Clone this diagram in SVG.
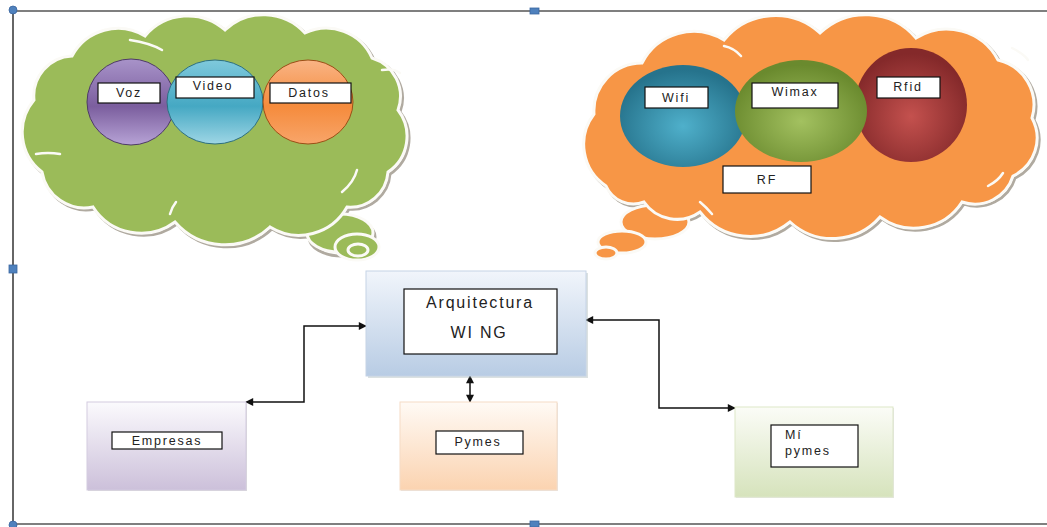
<svg xmlns="http://www.w3.org/2000/svg" width="1047" height="527" viewBox="0 0 1047 527">
<style>
.lbl{fill:#fff;stroke:#111;stroke-width:1.2}
.t{font-family:"Liberation Sans",Arial,sans-serif;font-size:12.5px;fill:#222;letter-spacing:1.8px}
.tb{font-family:"Liberation Sans",Arial,sans-serif;font-size:16px;fill:#222;letter-spacing:1.8px}
.conn{fill:none;stroke:#111;stroke-width:1.5}
.cshadow{fill:none;stroke:#b0aaa0;stroke-width:3}
.cedge{stroke:#fbfaf6;stroke-width:3}
.handle{fill:#4f81bd;stroke:#3a66a0;stroke-width:0.8}
.inner{fill:none;stroke:#fbfaf6;stroke-width:2.5;stroke-linecap:round}
</style>
<defs>
<marker id="ah" viewBox="0 0 10 10" refX="9" refY="5" markerWidth="10" markerHeight="8" markerUnits="userSpaceOnUse" orient="auto-start-reverse">
<path d="M0,0 L10,5 L0,10 Z" fill="#111"/>
</marker>
<linearGradient id="gVoz" x1="0" y1="0" x2="0" y2="1"><stop offset="0" stop-color="#a893c9"/><stop offset="0.55" stop-color="#7b5e9e"/><stop offset="1" stop-color="#b7a3d6"/></linearGradient>
<linearGradient id="gVid" x1="0" y1="0" x2="0" y2="1"><stop offset="0" stop-color="#7fc9dc"/><stop offset="0.55" stop-color="#45a8c3"/><stop offset="1" stop-color="#9ed6e5"/></linearGradient>
<linearGradient id="gDat" x1="0" y1="0" x2="0" y2="1"><stop offset="0" stop-color="#f9b485"/><stop offset="0.55" stop-color="#f58b3c"/><stop offset="1" stop-color="#f8a56a"/></linearGradient>
<radialGradient id="gWifi" cx="0.5" cy="0.6" r="0.55"><stop offset="0" stop-color="#4fb0cb"/><stop offset="1" stop-color="#26738c"/></radialGradient>
<radialGradient id="gWimax" cx="0.5" cy="0.6" r="0.55"><stop offset="0" stop-color="#a3c160"/><stop offset="1" stop-color="#6a8a2e"/></radialGradient>
<radialGradient id="gRfid" cx="0.5" cy="0.6" r="0.55"><stop offset="0" stop-color="#c4514e"/><stop offset="1" stop-color="#84292a"/></radialGradient>
<linearGradient id="gArq" x1="0" y1="0" x2="0" y2="1"><stop offset="0" stop-color="#f1f5fb"/><stop offset="1" stop-color="#b8cce4"/></linearGradient>
<linearGradient id="gEmp" x1="0" y1="0" x2="0" y2="1"><stop offset="0" stop-color="#fbfafd"/><stop offset="1" stop-color="#ccc0da"/></linearGradient>
<linearGradient id="gPym" x1="0" y1="0" x2="0" y2="1"><stop offset="0" stop-color="#fffaf5"/><stop offset="1" stop-color="#fbd3b0"/></linearGradient>
<linearGradient id="gMi" x1="0" y1="0" x2="0" y2="1"><stop offset="0" stop-color="#fbfcf7"/><stop offset="1" stop-color="#d6e3bc"/></linearGradient>
<path id="cloudG" d="M42,172 A50,50 0 0 1 34,100 A40,40 0 0 1 72,56 A52,52 0 0 1 145,36 A56,56 0 0 1 225,30 A56,56 0 0 1 305,33 A50,50 0 0 1 372,58 A40,40 0 0 1 398,110 A43,43 0 0 1 388,172 A38,38 0 0 1 347,207 A55,55 0 0 1 270,227 A66,66 0 0 1 175,222 A57,57 0 0 1 93,207 A43,43 0 0 1 42,172 Z"/>
<path id="cloudO" d="M606,186 A50,50 0 0 1 594,114 A48,48 0 0 1 642,63 A58,58 0 0 1 724,40 A66,66 0 0 1 820,33 A66,66 0 0 1 916,38 A58,58 0 0 1 998,60 A46,46 0 0 1 1032,118 A42,42 0 0 1 1013,176 A40,40 0 0 1 962,202 A57,57 0 0 1 880,217 A63,63 0 0 1 790,222 A63,63 0 0 1 700,212 A40,40 0 0 1 644,202 A30,30 0 0 1 606,186 Z"/>
</defs>
<rect width="1047" height="527" fill="#fff"/>

<!-- frame -->
<g id="frame">
<line x1="13" y1="11" x2="1047" y2="11" stroke="#555" stroke-width="1.3"/>
<line x1="13" y1="11" x2="13" y2="524" stroke="#333" stroke-width="1.5"/>
<line x1="13" y1="524" x2="1047" y2="524" stroke="#555" stroke-width="1.3"/>
<circle class="handle" cx="13" cy="10" r="4"/>
<rect class="handle" x="530" y="8" width="9" height="6"/>
<rect class="handle" x="9" y="265" width="8" height="8"/>
<rect class="handle" x="530" y="521" width="9" height="6"/>
<circle class="handle" cx="13" cy="525" r="4"/>
</g>

<!-- green cloud -->
<g id="cloud-green">
<ellipse cx="340" cy="235" rx="33" ry="19" fill="none" stroke="#b0aaa0" stroke-width="3" transform="translate(2,2)"/>
<use href="#cloudG" transform="translate(2,2)" class="cshadow"/>
<ellipse cx="340" cy="233" rx="33" ry="19" fill="#9bbb59" stroke="#fbfaf6" stroke-width="3"/>
<use href="#cloudG" fill="#9bbb59" class="cedge"/>
<ellipse cx="357" cy="247" rx="22" ry="13" fill="#9bbb59" stroke="#fbfaf6" stroke-width="3"/>
<ellipse cx="358" cy="250" rx="10" ry="6" fill="#9bbb59" stroke="#fbfaf6" stroke-width="3"/>
<path class="inner" d="M36,154 Q48,152 60,154"/>
<path class="inner" d="M130,40 Q150,43 162,50"/>
<path class="inner" d="M382,70 Q394,68 400,73"/>
<path class="inner" d="M342,192 Q354,182 357,170"/>
<path class="inner" d="M170,214 Q172,207 176,202"/>
<ellipse cx="131" cy="102" rx="44" ry="43" fill="url(#gVoz)" stroke="#4e3a66" stroke-width="1"/>
<ellipse cx="215" cy="102" rx="48" ry="42" fill="url(#gVid)" stroke="#2d6f80" stroke-width="1"/>
<ellipse cx="308" cy="102" rx="45" ry="42" fill="url(#gDat)" stroke="#9c4e16" stroke-width="1"/>
</g>
<g id="n-voz"><rect class="lbl" x="98" y="83" width="62" height="20"/><text class="t" x="129" y="97" text-anchor="middle">Voz</text></g>
<g id="n-video"><rect class="lbl" x="176" y="77" width="78" height="21"/><text class="t" x="213" y="90" text-anchor="middle">Video</text></g>
<g id="n-datos"><rect class="lbl" x="270" y="83" width="81" height="20"/><text class="t" x="309" y="97" text-anchor="middle">Datos</text></g>

<!-- orange cloud -->
<g id="cloud-orange">
<use href="#cloudO" transform="translate(2,2)" class="cshadow"/>
<ellipse cx="655" cy="222" rx="34" ry="17" fill="#f79646" stroke="#fbfaf6" stroke-width="3"/>
<use href="#cloudO" fill="#f79646" class="cedge"/>
<ellipse cx="622" cy="242" rx="24" ry="11" fill="#f79646" stroke="#fbfaf6" stroke-width="3"/>
<ellipse cx="606" cy="253" rx="11" ry="6" fill="#f79646" stroke="#fbfaf6" stroke-width="3"/>
<path class="inner" d="M724,46 Q734,48 741,56"/>
<path class="inner" d="M1012,48 Q1024,54 1028,60"/>
<path class="inner" d="M988,186 Q998,181 1003,173"/>
<path class="inner" d="M700,202 Q706,207 712,214"/>
<ellipse cx="683" cy="116" rx="63" ry="51" fill="url(#gWifi)"/>
<ellipse cx="911" cy="105" rx="56" ry="57" fill="url(#gRfid)"/>
<ellipse cx="801" cy="111" rx="66" ry="51" fill="url(#gWimax)"/>
</g>
<g id="n-wifi"><rect class="lbl" x="645" y="87" width="63" height="21"/><text class="t" x="676" y="102" text-anchor="middle">Wifi</text></g>
<g id="n-wimax"><rect class="lbl" x="752" y="83" width="86" height="25"/><text class="t" x="795" y="96" text-anchor="middle">Wimax</text></g>
<g id="n-rfid"><rect class="lbl" x="877" y="77" width="63" height="21"/><text class="t" x="908" y="91" text-anchor="middle">Rfid</text></g>
<g id="n-rf"><rect class="lbl" x="723" y="166" width="88" height="27"/><text class="t" x="767" y="184" text-anchor="middle">RF</text></g>

<!-- connectors -->
<g id="connectors">
<path class="conn" d="M246,402 H304 V326 H366" marker-start="url(#ah)" marker-end="url(#ah)"/>
<path class="conn" d="M470,376 V402" marker-start="url(#ah)" marker-end="url(#ah)"/>
<path class="conn" d="M586,320 H659 V408 H735" marker-start="url(#ah)" marker-end="url(#ah)"/>
</g>

<!-- bottom nodes -->
<g id="n-arquitectura">
<rect x="367" y="272" width="220" height="105" fill="#9aa" opacity="0.35" transform="translate(1,1)"/>
<rect x="366" y="271" width="220" height="105" fill="url(#gArq)" stroke="#c5d3e6" stroke-width="1"/>
<rect class="lbl" x="404" y="289" width="153" height="65"/>
<text class="tb" x="480" y="308" text-anchor="middle">Arquitectura</text>
<text class="tb" x="479" y="338" text-anchor="middle">WI NG</text>
</g>
<g id="n-empresas">
<rect x="88" y="403" width="159" height="88" fill="#999" opacity="0.35"/>
<rect x="87" y="402" width="159" height="88" fill="url(#gEmp)" stroke="#d3cbe0" stroke-width="1"/>
<rect class="lbl" x="112" y="432" width="110" height="17"/>
<text class="t" x="167" y="445" text-anchor="middle">Empresas</text>
</g>
<g id="n-pymes">
<rect x="401" y="403" width="157" height="88" fill="#aaa" opacity="0.3"/>
<rect x="400" y="402" width="157" height="88" fill="url(#gPym)" stroke="#f5dcc6" stroke-width="1"/>
<rect class="lbl" x="436" y="431" width="87" height="23"/>
<text class="t" x="478" y="446" text-anchor="middle">Pymes</text>
</g>
<g id="n-mipymes">
<rect x="736" y="408" width="158" height="90" fill="#aaa" opacity="0.3"/>
<rect x="735" y="407" width="158" height="90" fill="url(#gMi)" stroke="#dde7c8" stroke-width="1"/>
<rect class="lbl" x="771" y="425" width="87" height="42"/>
<text class="t" x="785" y="439">Mí</text>
<text class="t" x="785" y="455">pymes</text>
</g>
</svg>
